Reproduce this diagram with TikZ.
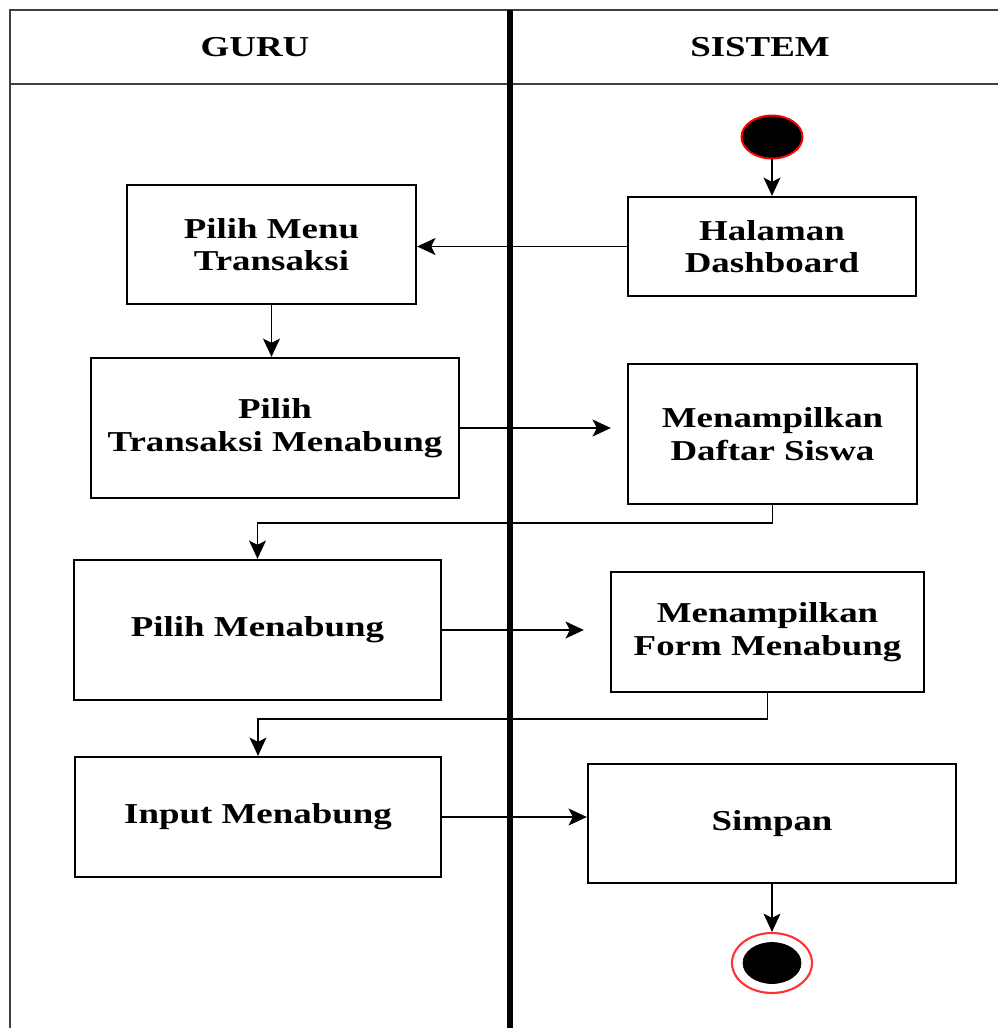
\documentclass[tikz,border=0pt]{standalone}
\usepackage{fontspec}
\setmainfont{Liberation Serif}[FakeStretch=1.28]
\usetikzlibrary{shapes.geometric,arrows.meta}

\begin{document}
\begin{tikzpicture}[x=0.025cm, y=-0.025cm,
    every node/.style = {font=\bfseries\fontsize{20.5}{23}\selectfont},
    actbox/.style 2 args = {shape=rectangle, draw, line width=1.6pt,
      align=center, inner sep=0pt,
      minimum width=#1*0.025cm, minimum height=#2*0.025cm},
    lane/.style = {draw=black!75, line width=1.8pt},
    flow/.style = {draw, line width=1.3pt, -{Stealth[length=13pt,width=12pt,inset=3pt]}},
    startdot/.style = {ellipse, fill=black, draw=red, line width=1.4pt,
      inner sep=0pt, minimum width=61*0.025cm, minimum height=43*0.025cm},
    endring/.style = {ellipse, draw=red!80, line width=1.5pt, fill=white,
      inner sep=0pt, minimum width=80*0.025cm, minimum height=60*0.025cm}]
  \useasboundingbox (0,0) rectangle (998,1028);
  % swimlanes
  \draw[lane] (998,10) -- (10,10) -- (10,1028);
  \draw[lane] (10,84) -- (998,84);
  \draw[line width=3.6pt] (510,10) -- (510,1028);
  \node (guru) at (255,47) {GURU};
  \node (sistem) at (760,47) {SISTEM};
  % activities
  \node[startdot] (start) at (772,137) {};
  \node[actbox={288}{99}] (dash) at (772,246.5) {Halaman\\Dashboard};
  \node[actbox={289}{119}] (menu) at (271.5,244.5) {Pilih Menu\\Transaksi};
  \node[actbox={368}{140}] (pilihtr) at (275,428) {Pilih\\Transaksi Menabung};
  \node[actbox={289}{140}] (daftar) at (772.5,434) {Menampilkan\\Daftar Siswa};
  \node[actbox={367}{140}] (pilihmn) at (257.5,630) {Pilih Menabung};
  \node[actbox={313}{120}] (form) at (767.5,632) {Menampilkan\\Form Menabung};
  \node[actbox={366}{120}] (input) at (258,817) {Input Menabung};
  \node[actbox={368}{119}] (simpan) at (772,823.5) {Simpan};
  \node[endring] (fin) at (772,963) {};
  \node[startdot, draw=black, line width=0.5pt, minimum width=58*0.025cm,
    minimum height=41*0.025cm] (fincore) at (fin) {};
  % connectors
  \draw[flow] (start) -- (dash);
  \draw[flow] (dash.west) -- (dash.west -| menu.east);
  \draw[flow] (menu.south) -- (menu.south |- pilihtr.north);
  \draw[flow, shorten >=0.4cm] (pilihtr.east) -- (pilihtr.east -| daftar.west);
  \draw[flow] (daftar.south) -- ++(0,18) -| (pilihmn.north);
  \draw[flow, shorten >=0.65cm] (pilihmn.east) -- (pilihmn.east -| form.west);
  \draw[flow] (form.south) -- ++(0,26) -| (input.north);
  \draw[flow] (input.east) -- (input.east -| simpan.west);
  \draw[flow] (simpan) -- (fin);
\end{tikzpicture}
\end{document}
